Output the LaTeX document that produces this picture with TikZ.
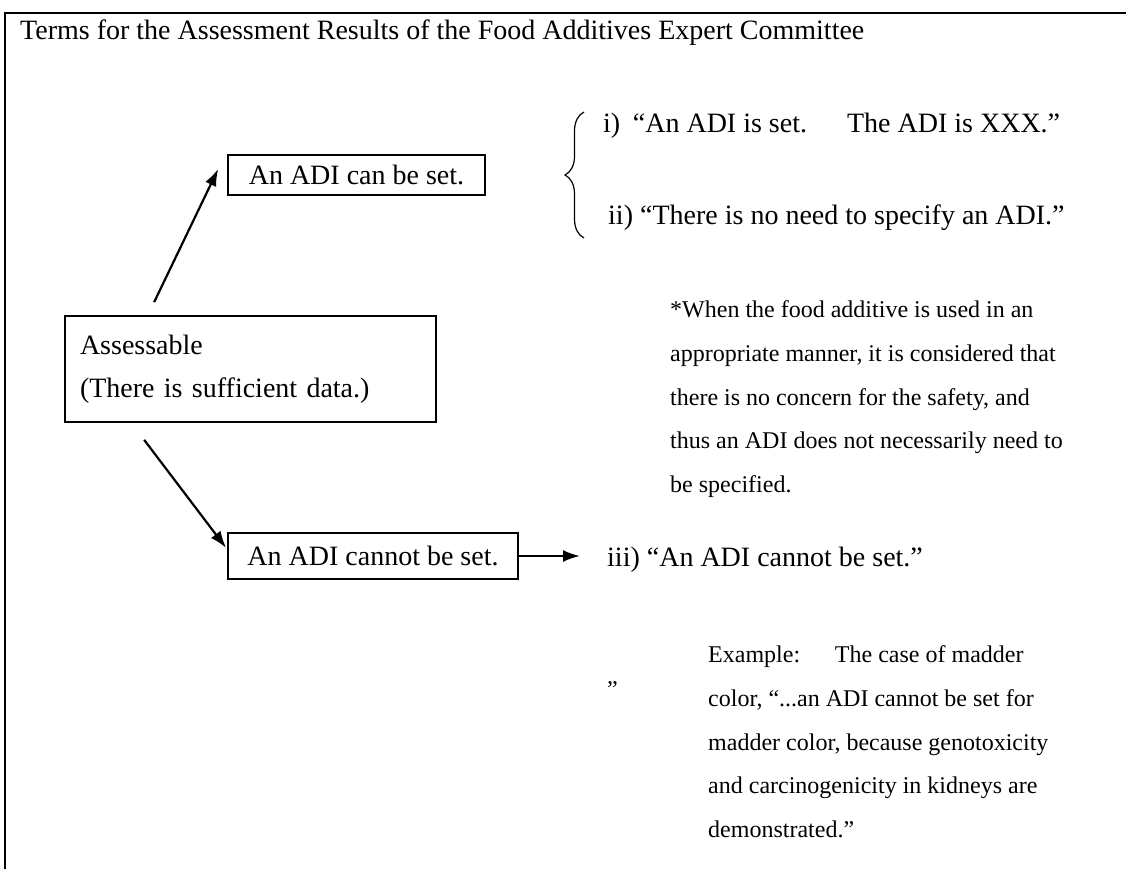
\documentclass[tikz,border=0pt]{standalone}
\usepackage{fontspec}
\setmainfont{Liberation Serif}
\usetikzlibrary{positioning,arrows.meta,decorations.pathreplacing}

\begin{document}
\begin{tikzpicture}[x=1pt, y=-1pt, >={Latex[length=17pt,width=12pt]},
    box/.style={draw, line width=1.7pt, inner sep=0pt, font=\fontsize{28}{34}\selectfont},
    big/.style={inner sep=0pt, anchor=base west, font=\fontsize{28}{34}\selectfont},
    note/.style={inner sep=0pt, anchor=north west, align=left, font=\fontsize{24}{43.7}\selectfont},
    flow/.style={->, line width=2.2pt}]

  \useasboundingbox (0,0) rectangle (1126,869);

  % open frame
  \draw[line width=2.6pt] (5,869) -- (5,13) -- (1126,13);

  \node[big] (title) at (20,40)
    {Terms for the Assessment Results of the Food Additives Expert Committee};

  % boxes
  \node[box, minimum width=371pt, minimum height=106pt, align=left, text width=341pt,
        font=\fontsize{28}{43}\selectfont] (assess) at (250.5,369)
    {Assessable\\(There is sufficient data.)};
  \node[box, minimum width=257pt, minimum height=40pt] (canset) at (356.5,175) {An ADI can be set.};
  \node[box, minimum width=290pt, minimum height=46pt] (cannot) at (373,556) {An ADI cannot be set.};

  % results
  \node[big] (one) at (603,133) {i) \hspace{.2em}“An ADI is set.\hspace{1.43em}The ADI is XXX.”};
  \node[big] (two) at (608,224) {ii) “There is no need to specify an ADI.”};
  \node[big] (three) at (607,566) {iii) “An ADI cannot be set.”};

  \coordinate (bracebot) at (584,238);
  \coordinate (bracetop) at (584,112);
  \draw[line width=1.2pt, decorate, decoration={brace, amplitude=19pt}] (bracebot) -- (bracetop);

  \node[note] (remark) at (670,300.6)
    {*When the food additive is used in an\\
     appropriate manner, it is considered that\\
     there is no concern for the safety, and\\
     thus an ADI does not necessarily need to\\
     be specified.};

  \node[inner sep=0pt, anchor=base west, font=\fontsize{24}{30}\selectfont] (quote) at (607,697) {”};
  \node[note] (example) at (708,645.6)
    {Example:\hspace{1.45em}The case of madder\\
     color, “...an ADI cannot be set for\\
     madder color, because genotoxicity\\
     and carcinogenicity in kidneys are\\
     demonstrated.”};

  % arrows
  \draw[flow] ([shift={(90pt,13pt)}]assess.north west) -- ([shift={(-9pt,6pt)}]canset.west);
  \draw[flow] ([shift={(80pt,-17pt)}]assess.south west) -- ([shift={(-1pt,8pt)}]cannot.west);
  \draw[flow] (cannot.east) -- ([xshift=-27pt]three.west |- cannot.east);

\end{tikzpicture}
\end{document}
